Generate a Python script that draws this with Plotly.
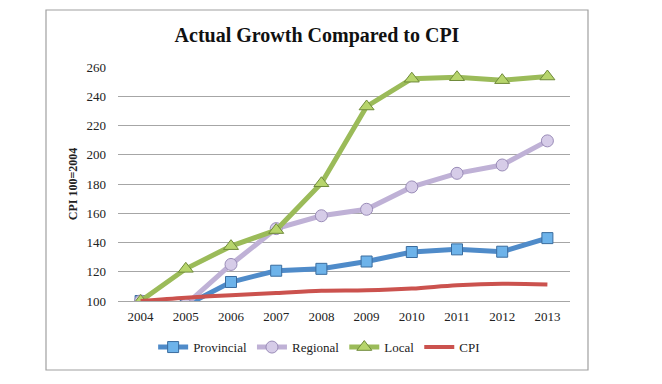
import plotly.graph_objects as go

years = ["2004", "2005", "2006", "2007", "2008", "2009", "2010", "2011", "2012", "2013"]
provincial = [100, 97, 113, 120.7, 122, 127, 133.5, 135.3, 133.7, 143]
regional = [100, 97.5, 125, 149.5, 158.3, 162.7, 178, 187.3, 193, 209.5]
local = [100, 122, 137.5, 148.5, 180.5, 233, 252, 253, 251, 253.5]
cpi = [100, 102.3, 104, 105.5, 107, 107.3, 108.5, 110.8, 111.8, 111.3]
y_ticks = [100, 120, 140, 160, 180, 200, 220, 240, 260]

serif = "Liberation Serif, DejaVu Serif, serif"

fig = go.Figure()
fig.add_trace(go.Scatter(
    x=years, y=provincial, name="Provincial", mode="lines+markers",
    line=dict(color="#4F8BC9", width=5),
    marker=dict(symbol="square", size=11, color="#6DB3EA", line=dict(color="#3A6C9E", width=1)),
))
fig.add_trace(go.Scatter(
    x=years, y=regional, name="Regional", mode="lines+markers",
    line=dict(color="#BFB1D6", width=5),
    marker=dict(symbol="circle", size=12, color="#D6CCE8", line=dict(color="#9A8CB8", width=1)),
))
fig.add_trace(go.Scatter(
    x=years, y=local, name="Local", mode="lines+markers",
    line=dict(color="#9BBB59", width=5),
    marker=dict(symbol="triangle-up", size=13, color="#B7D56C", line=dict(color="#6F8A3A", width=1)),
))
fig.add_trace(go.Scatter(
    x=years, y=cpi, name="CPI", mode="lines",
    line=dict(color="#CB524E", width=4, shape="spline"),
))

fig.update_layout(
    width=662, height=384,
    margin=dict(l=118, r=92, t=67, b=83, autoexpand=False),
    paper_bgcolor="white", plot_bgcolor="white",
    font=dict(family=serif, size=13, color="#222222"),
    title=dict(text="<b>Actual Growth Compared to CPI</b>", x=317 / 662, xanchor="center",
               y=1 - 35 / 384, yanchor="middle", font=dict(family=serif, size=20, color="#111111")),
    showlegend=True,
    legend=dict(orientation="h", x=0.445, xanchor="center", y=-0.197, yanchor="middle",
                font=dict(family=serif, size=13, color="#222222"), itemwidth=30,
                bgcolor="rgba(0,0,0,0)"),
    shapes=[dict(type="rect", xref="paper", yref="paper",
                 x0=(46 - 118) / 452, x1=(588 - 118) / 452,
                 y0=(301 - 370) / 234, y1=(301 - 10) / 234,
                 line=dict(color="#A0A0A0", width=1.2), fillcolor="rgba(0,0,0,0)", layer="below")],
)
fig.update_xaxes(
    type="category", range=[-0.5, len(years) - 0.5], showgrid=False, showline=True,
    linecolor="#A6A6A6", linewidth=1,
    ticks="", tickfont=dict(family=serif, size=13), ticklabelstandoff=3, automargin=False,
)
fig.update_yaxes(
    range=[100, 260], tickvals=y_ticks, showgrid=True, gridcolor="#A6A6A6", gridwidth=1,
    zeroline=False, showline=False, ticks="", ticklabelstandoff=11, automargin=False,
    tickfont=dict(family=serif, size=13),
    title=dict(text="<b>CPI 100=2004</b>", font=dict(family=serif, size=12), standoff=6),
)

fig.write_html(
    "out.html",
    config={"displayModeBar": False},
    post_script="document.body.style.margin='0';document.body.style.padding='0';",
)
